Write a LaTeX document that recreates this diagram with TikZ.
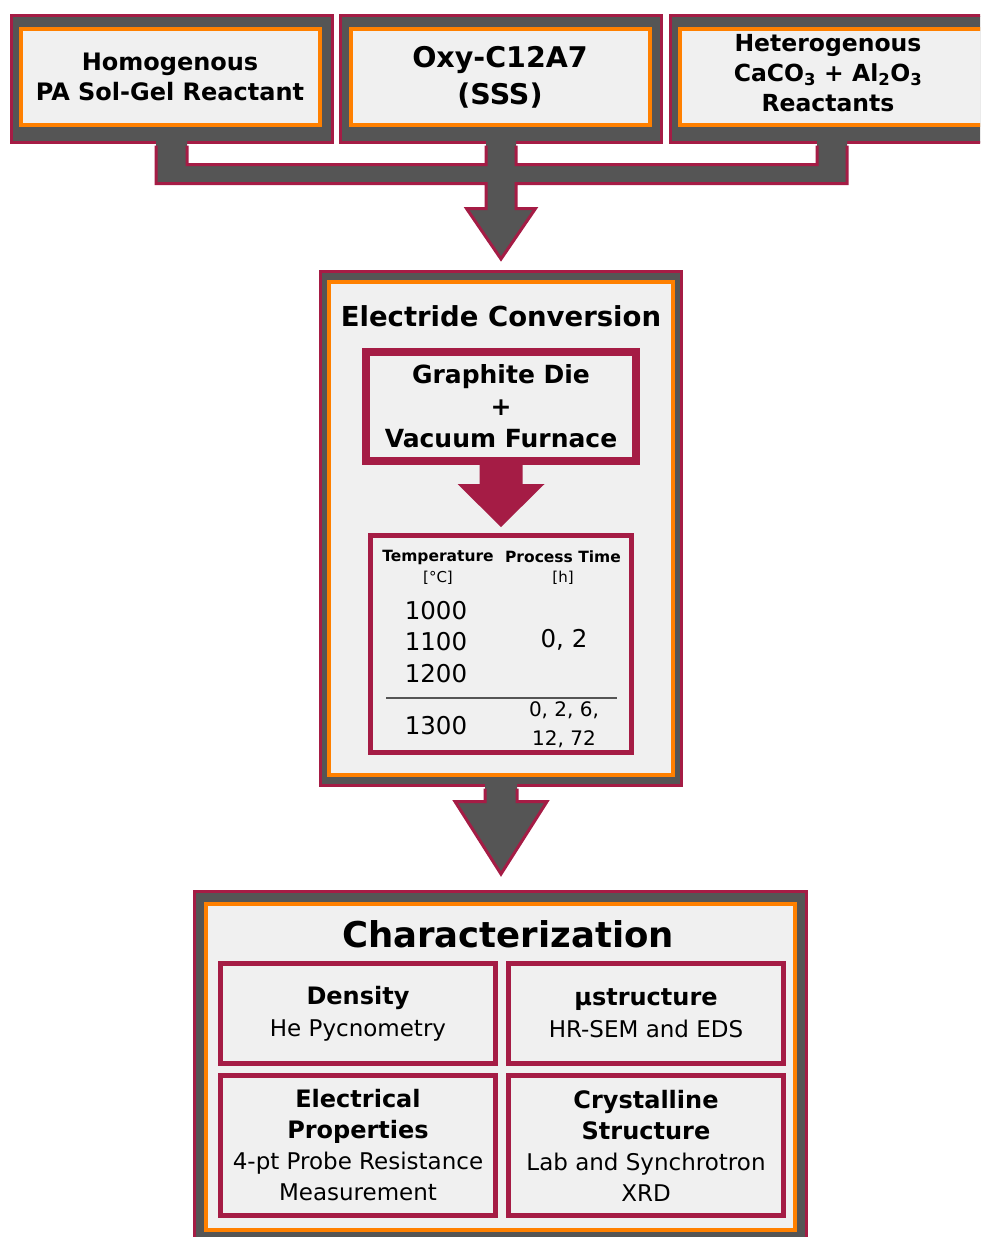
\documentclass[tikz,border=0pt]{standalone}
\usepackage{fontspec}
\setmainfont{DejaVu Sans}
\usetikzlibrary{positioning,calc}
\definecolor{crimson}{HTML}{A51C45}
\definecolor{slate}{HTML}{555555}
\definecolor{amber}{HTML}{FF8000}
\definecolor{paper}{HTML}{F0F0F0}
\newcommand{\head}[1]{{\bfseries\fontsize{24}{31}\selectfont #1}}
\tikzset{
  shell box/.style 2 args={
    draw=crimson, fill=slate, line width=3pt,
    minimum width={#1pt}, minimum height={#2pt}, inner sep=0pt,
  },
  panel box/.style 2 args={
    draw=amber, fill=paper, line width=4pt,
    minimum width={#1pt}, minimum height={#2pt}, inner sep=0pt,
    align=center,
  },
  cell box/.style={
    draw=crimson, fill=paper, line width=5pt, inner sep=0pt,
    align=center,
  },
  bold text/.style 2 args={
    font=\bfseries\fontsize{#1}{#2}\selectfont, align=center,
  },
  body text/.style 2 args={
    font=\fontsize{#1}{#2}\selectfont, align=center,
  },
  rim/.style={draw=crimson, line width=3pt, line join=miter},
}

\begin{document}
\begin{tikzpicture}[x=1pt, y=-1pt]
        \useasboundingbox (0,0) rectangle (980,1237);
        \clip (0,0) rectangle (980,1237);

        \node [shell box={321}{127}] (oxy frame) at (501,79) {};
        \node [shell box={321}{127}, left=5pt of oxy frame] (homog frame) {};
        \node [shell box={345}{127}, right=6pt of oxy frame] (hetero frame) {};

        \node [panel box={299}{96}, bold text={24}{30}] (homog) at ([shift={(-2pt,2pt)}]homog frame.center) {Homogenous\\PA Sol-Gel Reactant};
        \node [panel box={299}{96}, bold text={28.5}{37}] (oxy) at ([shift={(-1pt,2pt)}]oxy frame.center) {Oxy-C12A7\\(SSS)};
        \node [panel box={325}{96}] (hetero) at ([shift={(-1pt,2pt)}]hetero frame.center) {};
        \node [bold text={23.5}{30}] (hetero label) at (828,73) {Heterogenous\\CaCO\textsubscript{3} + Al\textsubscript{2}O\textsubscript{3}\\Reactants};

        \fill [slate] let \p1=(homog frame.south), \p2=(oxy frame.south), \p3=(hetero label.south) in
            (\x1-16pt,\y1+8pt) -- (\x1-16pt,\y1-39.5pt) -- (\x2-15pt,\y1-39.5pt) -- (\x2-15pt,\y1-64.5pt)
            -- (\x2-34.5pt,\y1-64.5pt) -- (\x2,\y1-115pt) -- (\x2+34.5pt,\y1-64.5pt) -- (\x2+15pt,\y1-64.5pt)
            -- (\x2+15pt,\y1-39.5pt) -- (\x3+19pt,\y1-39.5pt) -- (\x3+19pt,\y1+8pt) -- (\x3-11pt,\y1+8pt)
            -- (\x3-11pt,\y1-20.5pt) -- (\x2+15pt,\y1-20.5pt) -- (\x2+15pt,\y1+8pt) -- (\x2-15pt,\y1+8pt)
            -- (\x2-15pt,\y1-20.5pt) -- (\x1+15pt,\y1-20.5pt) -- (\x1+15pt,\y1+8pt) -- cycle;
        \draw [rim] let \p1=(homog frame.south), \p2=(oxy frame.south), \p3=(hetero label.south) in
            (\x1-16pt,\y1-1.5pt) -- (\x1-16pt,\y1-39.5pt) -- (\x2-15pt,\y1-39.5pt) -- (\x2-15pt,\y1-64.5pt)
            -- (\x2-34.5pt,\y1-64.5pt) -- (\x2,\y1-115pt) -- (\x2+34.5pt,\y1-64.5pt) -- (\x2+15pt,\y1-64.5pt)
            -- (\x2+15pt,\y1-39.5pt) -- (\x3+19pt,\y1-39.5pt) -- (\x3+19pt,\y1-1.5pt)
            (\x1+15pt,\y1-1.5pt) -- (\x1+15pt,\y1-20.5pt) -- (\x2-15pt,\y1-20.5pt) -- (\x2-15pt,\y1-1.5pt)
            (\x2+15pt,\y1-1.5pt) -- (\x2+15pt,\y1-20.5pt) -- (\x3-11pt,\y1-20.5pt) -- (\x3-11pt,\y1-1.5pt);

        \node [shell box={361}{514}] (conv frame) at (501,528.5) {};
        \node [panel box={344}{493}] (conv) at (conv frame.center) {};
        \node [bold text={27.5}{32}] (conv title) at (501,316) {Electride Conversion};
        \node [cell box, line width=8pt, minimum width=270pt, minimum height=109pt, bold text={25}{32}] (die) at (501,406.5) {Graphite Die\\+\\Vacuum Furnace};

        \fill [crimson] let \p1=(die.south) in
            (\x1-21.5pt,\y1+4pt) -- (\x1-21.5pt,\y1-19pt) -- (\x1-43.5pt,\y1-19pt) -- (\x1,\y1-62pt)
            -- (\x1+43.5pt,\y1-19pt) -- (\x1+21.5pt,\y1-19pt) -- (\x1+21.5pt,\y1+4pt) -- cycle;

        \node [cell box, minimum width=261pt, minimum height=217pt] (table) at (501,644) {};
        \node [bold text={15.5}{18}] (temp head) at (438,557) {Temperature};
        \node [bold text={15.5}{18}] (time head) at (563,557) {Process Time};
        \node [body text={15}{18}] (temp unit) at (438,578) {[°C]};
        \node [body text={15}{18}] (time unit) at (563,578) {[h]};
        \node [body text={24.5}{31.5}] (low temps) at (436,642) {1000\\1100\\1200};
        \node [body text={24.5}{30}] (short times) at (564,640) {0, 2};
        \draw [slate, line width=1.5pt] ($(table.west)+(18,54)$) -- ($(table.east)+(-17,54)$);
        \node [body text={24.5}{30}] (top temp) at (436,726) {1300};
        \node [body text={20}{29}] (long times) at (564,725) {0, 2, 6,\\12, 72};

        \fill [slate] let \p1=(conv frame.south) in
            (\x1-16pt,\y1+6pt) -- (\x1-16pt,\y1-14.5pt) -- (\x1-46pt,\y1-14.5pt) -- (\x1,\y1-87pt)
            -- (\x1+46pt,\y1-14.5pt) -- (\x1+16pt,\y1-14.5pt) -- (\x1+16pt,\y1+6pt) -- cycle;
        \draw [rim] let \p1=(conv frame.south) in
            (\x1-16pt,\y1-1.5pt) -- (\x1-16pt,\y1-14.5pt) -- (\x1-46pt,\y1-14.5pt) -- (\x1,\y1-87pt)
            -- (\x1+46pt,\y1-14.5pt) -- (\x1+16pt,\y1-14.5pt) -- (\x1+16pt,\y1-1.5pt);

        \node [shell box={612}{351.5}] (char frame) at (500.5,1067.25) {};
        \node [panel box={589}{326}] (char) at (500,1067) {};
        \node [bold text={35.5}{40}] (char title) at (508,934) {Characterization};

        \node [cell box, minimum width=275pt, minimum height=100pt, body text={23}{32}] (density) at (358,1013.5) {\head{Density}\\He Pycnometry};
        \node [cell box, minimum width=275pt, minimum height=100pt, body text={23}{32}, right=8pt of density] (micro) {\head{µstructure}\\HR-SEM and EDS};
        \node [cell box, minimum width=275pt, minimum height=140pt, body text={23}{31}, below=7pt of density] (elec) {\head{Electrical}\\\head{Properties}\\4-pt Probe Resistance\\Measurement};
        \node [cell box, minimum width=275pt, minimum height=140pt, body text={23}{31}, right=8pt of elec] (cryst) {\head{Crystalline}\\\head{Structure}\\Lab and Synchrotron\\XRD};
    \end{tikzpicture}
\end{document}
